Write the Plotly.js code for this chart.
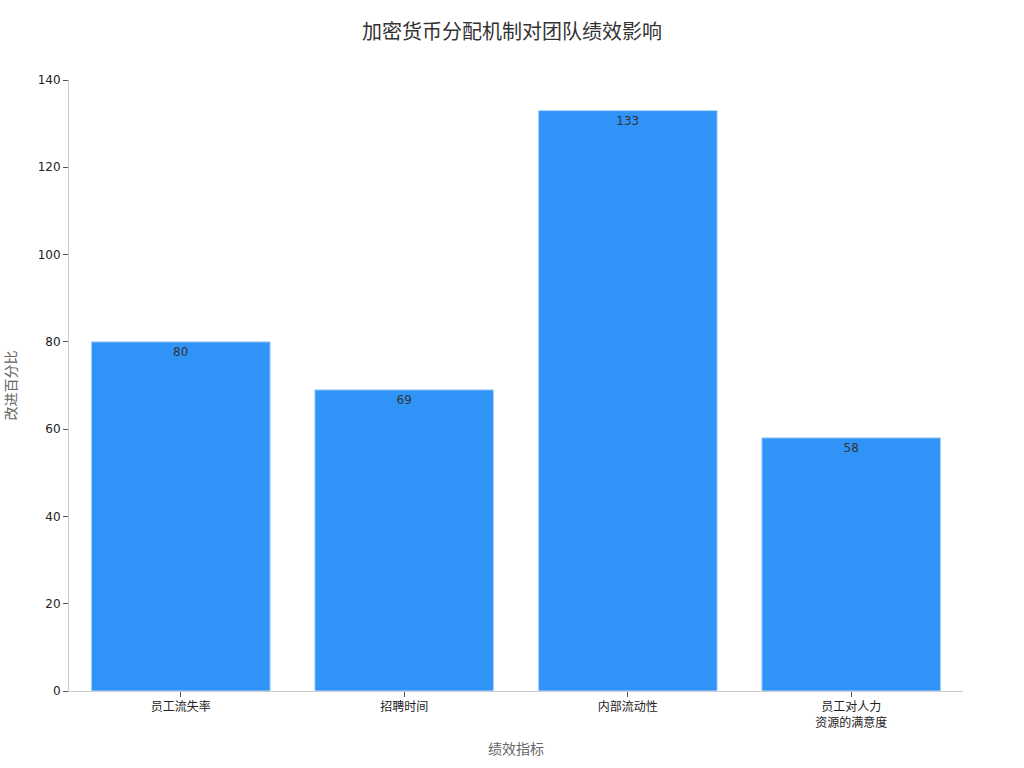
<!DOCTYPE html>
<html>
<head>
<meta charset="utf-8">
<script src="https://cdn.plot.ly/plotly-3.0.1.min.js"></script>
<style>
  body { margin: 0; background: #fff; }
  #chart { width: 1024px; height: 768px; }
</style>
</head>
<body>
<div id="chart"></div>
<script>
const CATEGORIES = [ '员工流失率', '招聘时间', '内部流动性', '员工对人力<br>资源的满意度' ];
const VALUES     = [ 80, 69, 133, 58 ];
const Y_TICKS    = [ 0, 20, 40, 60, 80, 100, 120, 140 ];

const FONT = '"Noto Sans CJK SC", "DejaVu Sans", sans-serif';

const trace = {
	type        : 'bar',
	x           : CATEGORIES,
	y           : VALUES,
	text        : VALUES.map( String ),
	textposition: 'inside',
	insidetextanchor: 'end',
	textfont    : { color: '#333', size: 12, family: '"DejaVu Sans", sans-serif' },
	marker      : { color: '#3093f8', line: { color: '#b8d8fb', width: 1 } },
	hoverinfo   : 'none'
};

const layout = {
	width        : 1024,
	height       : 768,
	margin       : { l: 69, r: 61, t: 80, b: 77 },
	paper_bgcolor: '#fff',
	plot_bgcolor : '#fff',
	showlegend   : false,
	bargap       : 0.2,
	font         : { family: FONT, color: '#333' },
	title        : {
		text: '加密货币分配机制对团队绩效影响',
		font: { size: 20, color: '#333', family: FONT },
		x: 0.5, xanchor: 'center', y: 0.958, yanchor: 'middle'
	},
	xaxis: {
		title    : { text: '绩效指标', font: { size: 14, color: '#666' }, standoff: 15 },
		showline : true, linecolor: '#ccc', linewidth: 1,
		ticks    : 'outside', ticklen: 5, tickcolor: '#555',
		tickfont : { size: 12, color: '#222' },
		showgrid : false
	},
	yaxis: {
		title    : { text: '改进百分比', font: { size: 14, color: '#666' }, standoff: 18 },
		range    : [ 0, 140 ],
		tickvals : Y_TICKS,
		showline : true, linecolor: '#ccc', linewidth: 1,
		ticks    : 'outside', ticklen: 5, tickcolor: '#555',
		tickfont : { size: 12, color: '#222', family: '"DejaVu Sans", sans-serif' },
		showgrid : false, zeroline: false
	}
};

Plotly.newPlot( 'chart', [ trace ], layout, { displayModeBar: false, staticPlot: true } );
</script>
</body>
</html>
